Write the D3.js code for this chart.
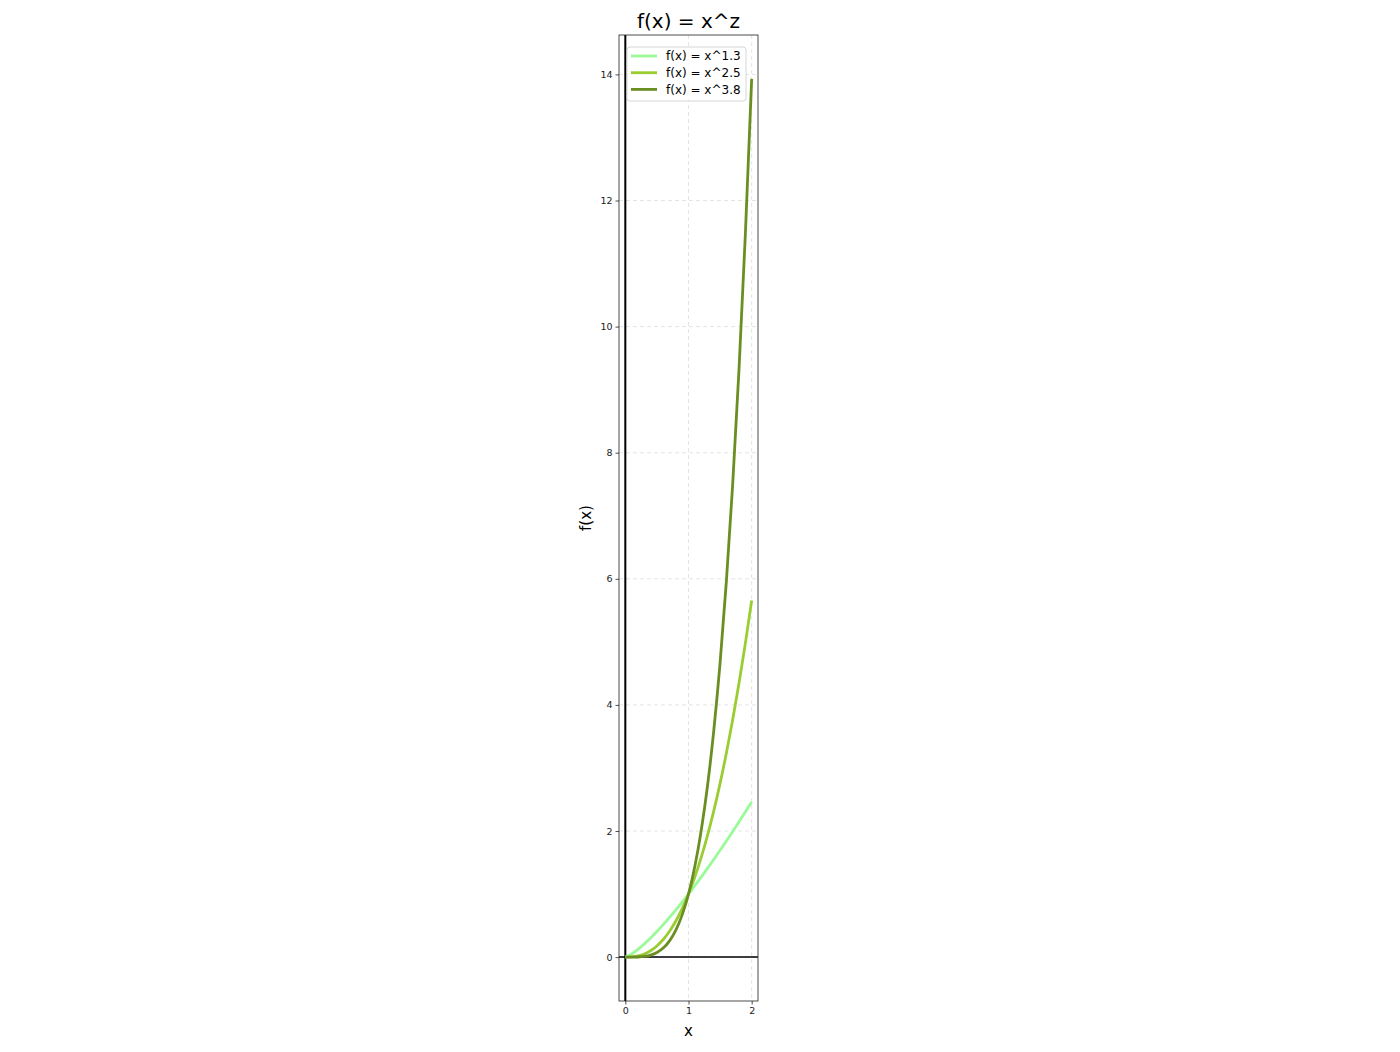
<!DOCTYPE html>
<html>
<head>
<meta charset="utf-8">
<script src="https://cdn.jsdelivr.net/npm/d3@7"></script>
<style>
  body { margin: 0; background: #fff; }
  svg { font-family: "DejaVu Sans", sans-serif; }
</style>
</head>
<body>
<svg id="chart"></svg>
<script>
// sample points
const xs = [0, 0.1, 0.2, 0.3, 0.4, 0.5, 0.6, 0.7, 0.8, 0.9, 1.0,
            1.1, 1.2, 1.3, 1.4, 1.5, 1.6, 1.7, 1.8, 1.9, 2.0];
const pow13 = [0, 0.050, 0.123, 0.209, 0.304, 0.406, 0.515, 0.629, 0.748, 0.872, 1.0,
               1.132, 1.268, 1.407, 1.549, 1.694, 1.842, 1.993, 2.147, 2.304, 2.462];
const pow25 = [0, 0.003, 0.018, 0.049, 0.101, 0.177, 0.279, 0.410, 0.572, 0.768, 1.0,
               1.269, 1.577, 1.927, 2.319, 2.756, 3.238, 3.768, 4.347, 4.976, 5.657];
const pow38 = [0, 0.0002, 0.002, 0.010, 0.031, 0.072, 0.144, 0.258, 0.428, 0.670, 1.0,
               1.437, 1.999, 2.710, 3.592, 4.668, 5.966, 7.510, 9.333, 11.464, 13.929];
const seriesNames = ['f(x) = x^1.3', 'f(x) = x^2.5', 'f(x) = x^3.8'];
const seriesColors = ['#98FB98', '#9ACD32', '#6B8E23'];
const xTicks = [0, 1, 2];
const yTicks = [0, 2, 4, 6, 8, 10, 12, 14];

const W = 1400, H = 1052;
const plot = {left: 619, right: 758, top: 35, bottom: 1001};

const svg = d3.select('#chart').attr('width', W).attr('height', H);

const x = d3.scaleLinear().domain([-0.1, 2.1]).range([plot.left, plot.right]);
const y = d3.scaleLinear().domain([-0.696, 14.625]).range([plot.bottom, plot.top]);

// grid
const grid = svg.append('g');
grid.selectAll('.gx').data(xTicks).join('line')
    .attr('x1', d => x(d)).attr('x2', d => x(d))
    .attr('y1', plot.top).attr('y2', plot.bottom)
    .attr('stroke', '#ddd').attr('stroke-width', 0.8).attr('stroke-dasharray', '4,3');
grid.selectAll('.gy').data(yTicks).join('line')
    .attr('y1', d => y(d)).attr('y2', d => y(d))
    .attr('x1', plot.left).attr('x2', plot.right)
    .attr('stroke', '#ddd').attr('stroke-width', 0.8).attr('stroke-dasharray', '4,3');

// zero lines
svg.append('line')
    .attr('x1', plot.left).attr('x2', plot.right)
    .attr('y1', y(0)).attr('y2', y(0))
    .attr('stroke', '#000').attr('stroke-width', 1.5);
svg.append('line')
    .attr('x1', x(0)).attr('x2', x(0))
    .attr('y1', plot.top).attr('y2', plot.bottom)
    .attr('stroke', '#000').attr('stroke-width', 2);

// curves
const allSeries = [pow13, pow25, pow38];
const line = d3.line()
    .x((d, i) => x(xs[i]))
    .y(d => y(d))
    .curve(d3.curveMonotoneX);

svg.append('g').selectAll('path')
    .data(allSeries)
    .join('path')
    .attr('d', line)
    .attr('fill', 'none')
    .attr('stroke', (d, i) => seriesColors[i])
    .attr('stroke-width', 2.8);

// frame
svg.append('rect')
    .attr('x', plot.left).attr('y', plot.top)
    .attr('width', plot.right - plot.left).attr('height', plot.bottom - plot.top)
    .attr('fill', 'none').attr('stroke', '#222').attr('stroke-width', 0.8);

// axes
const xAxis = svg.append('g')
    .attr('transform', `translate(0,${plot.bottom})`)
    .call(d3.axisBottom(x).tickValues(xTicks).tickFormat(d3.format('d')).tickSize(3.5).tickPadding(3));
const yAxis = svg.append('g')
    .attr('transform', `translate(${plot.left},0)`)
    .call(d3.axisLeft(y).tickValues(yTicks).tickFormat(d3.format('d')).tickSize(3.5).tickPadding(3));
[xAxis, yAxis].forEach(a => {
    a.select('.domain').remove();
    a.selectAll('line').attr('stroke', '#222').attr('stroke-width', 0.8);
    a.selectAll('text').attr('font-size', 9.5).attr('fill', '#222')
        .attr('font-family', '"DejaVu Sans", sans-serif');
});

// labels
svg.append('text')
    .attr('x', (plot.left + plot.right) / 2).attr('y', 28)
    .attr('text-anchor', 'middle').attr('font-size', 20)
    .text('f(x) = x^z');
svg.append('text')
    .attr('x', (plot.left + plot.right) / 2).attr('y', 1036)
    .attr('text-anchor', 'middle').attr('font-size', 15)
    .text('x');
svg.append('text')
    .attr('transform', `translate(591,${(plot.top + plot.bottom) / 2}) rotate(-90)`)
    .attr('text-anchor', 'middle').attr('font-size', 15)
    .text('f(x)');

// legend
const legend = svg.append('g').attr('transform', 'translate(627,47)');
legend.append('rect')
    .attr('width', 119).attr('height', 54).attr('rx', 3)
    .attr('fill', 'rgba(255,255,255,0.8)').attr('stroke', '#ccc').attr('stroke-width', 0.8);
const items = legend.selectAll('g.item').data(seriesNames).join('g')
    .attr('transform', (d, i) => `translate(0,${9 + i * 16.7})`);
items.append('line')
    .attr('x1', 4).attr('x2', 30)
    .attr('stroke', (d, i) => seriesColors[i]).attr('stroke-width', 2.8);
items.append('text')
    .attr('x', 39).attr('dy', '0.35em').attr('font-size', 12)
    .text(d => d);
</script>
</body>
</html>
